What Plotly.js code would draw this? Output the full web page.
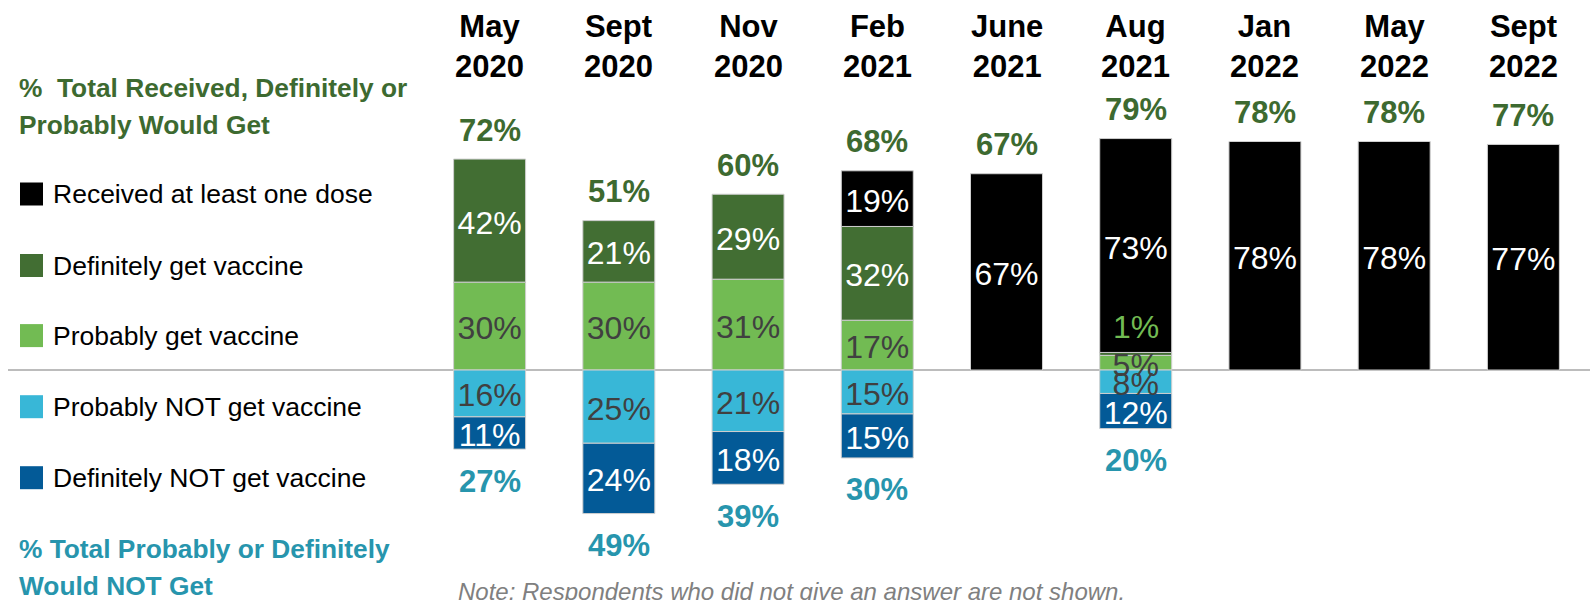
<!DOCTYPE html>
<html>
<head>
<meta charset="utf-8">
<script src="https://cdn.plot.ly/plotly-3.0.1.min.js"></script>
<style>
  body { margin: 0; background: #fff; }
  #chart { width: 1590px; height: 600px; }
</style>
</head>
<body>
<div id="chart"></div>
<script>
// survey waves
const months = ['May 2020', 'Sept 2020', 'Nov 2020', 'Feb 2021', 'June 2021', 'Aug 2021', 'Jan 2022', 'May 2022', 'Sept 2022'];
const monthLabels = ['May<br>2020', 'Sept<br>2020', 'Nov<br>2020', 'Feb<br>2021', 'June<br>2021', 'Aug<br>2021', 'Jan<br>2022', 'May<br>2022', 'Sept<br>2022'];

// shares in %, null = not asked
const received      = [null, null, null, 19, 67, 73, 78, 78, 77];
const definitelyGet = [42, 21, 29, 32, null, 1, null, null, null];
const probablyGet   = [30, 30, 31, 17, null, 5, null, null, null];
const probablyNot   = [16, 25, 21, 15, null, 8, null, null, null];
const definitelyNot = [11, 24, 18, 15, null, 12, null, null, null];

const totalGet = [72, 51, 60, 68, 67, 79, 78, 78, 77];
const totalNot = [27, 49, 39, 30, null, 20, null, null, null];

const legendLabels = ['Received at least one dose', 'Definitely get vaccine', 'Probably get vaccine', 'Probably NOT get vaccine', 'Definitely NOT get vaccine'];

const C = {
  received: '#000000',
  defGet: '#426E33',
  probGet: '#72BB53',
  probNot: '#38B7D7',
  defNot: '#035A97',
  greenText: '#3D6A30',
  tealText: '#2795AD'
};
const legendColors = [C.received, C.defGet, C.probGet, C.probNot, C.defNot];

const FONT = 'Liberation Sans, Arial, sans-serif';
const W = 1590, H = 600;
const M = { l: 425, r: 2, t: 0, b: 0 };
const plotW = W - M.l - M.r;
const Y_RANGE = [-78.5, 126.3];
const pxPerUnit = (H - M.t - M.b) / (Y_RANGE[1] - Y_RANGE[0]);

// pixel -> paper helpers for the side legend
const px2x = px => (px - M.l) / plotW;
const px2y = py => 1 - py / H;

const MIN_INSIDE = 3; // smaller segments get their label above
const LABEL_DROP = 5; // px, optical nudge of segment labels

function barTrace(vals, color, sign) {
  return {
    type: 'bar',
    x: months,
    y: vals.map(v => v == null ? null : sign * v),
    marker: { color: color, line: { color: '#cfcfcf', width: 1 } },
    hoverinfo: 'skip'
  };
}

// stacks from zero outwards, same order as the bar traces
const upStack = [
  { vals: probablyGet, txt: '#404040' },
  { vals: definitelyGet, txt: '#ffffff' },
  { vals: received, txt: '#ffffff' }
];
const downStack = [
  { vals: probablyNot, txt: '#404040' },
  { vals: definitelyNot, txt: '#ffffff' }
];

// segment labels as a text layer above all bars
const lblX = [], lblY = [], lblT = [], lblC = [];
months.forEach((m, i) => {
  [[upStack, 1], [downStack, -1]].forEach(([stack, sign]) => {
    let base = 0;
    stack.forEach(s => {
      const v = s.vals[i];
      if (v == null) return;
      if (v >= MIN_INSIDE) {
        lblX.push(m);
        lblY.push(sign * (base + v / 2) - LABEL_DROP / pxPerUnit);
        lblT.push(v + '%');
        lblC.push(s.txt);
      }
      base += v;
    });
  });
});

const data = [
  barTrace(probablyGet, C.probGet, 1),
  barTrace(definitelyGet, C.defGet, 1),
  barTrace(received, C.received, 1),
  barTrace(probablyNot, C.probNot, -1),
  barTrace(definitelyNot, C.defNot, -1),
  {
    type: 'scatter', mode: 'text',
    x: lblX, y: lblY, text: lblT,
    textposition: 'middle center',
    textfont: { family: FONT, size: 32, color: lblC },
    cliponaxis: false, hoverinfo: 'skip'
  }
];

const annotations = [];

// wave headers
months.forEach((m, i) => {
  annotations.push({
    x: m, xref: 'x', y: px2y(46), yref: 'paper',
    text: '<b>' + monthLabels[i] + '</b>', showarrow: false,
    xanchor: 'center', yanchor: 'middle',
    font: { family: FONT, size: 31, color: '#000' }
  });
});

// totals above / below
months.forEach((m, i) => {
  annotations.push({
    x: m, y: totalGet[i], text: '<b>' + totalGet[i] + '%</b>', showarrow: false,
    yanchor: 'middle', yshift: 29,
    font: { family: FONT, size: 31, color: C.greenText }
  });
  if (totalNot[i] != null) {
    annotations.push({
      x: m, y: -totalNot[i], text: '<b>' + totalNot[i] + '%</b>', showarrow: false,
      yanchor: 'middle', yshift: -32,
      font: { family: FONT, size: 31, color: C.tealText }
    });
  }
});

// tiny segments: label drawn just above the segment
months.forEach((m, i) => {
  const v = definitelyGet[i];
  if (v != null && v < MIN_INSIDE) {
    annotations.push({
      x: m, y: (probablyGet[i] || 0) + v, text: v + '%', showarrow: false,
      yanchor: 'middle', yshift: 25,
      font: { family: FONT, size: 32, color: C.probGet }
    });
  }
});

// side legend with group headings
const legendY = [194, 265.5, 335.6, 406.7, 477.7];
const shapes = [];
legendLabels.forEach((lab, i) => {
  shapes.push({
    type: 'rect', xref: 'paper', yref: 'paper',
    x0: px2x(20), x1: px2x(43), y0: px2y(legendY[i] - 11.5), y1: px2y(legendY[i] + 11.5),
    fillcolor: legendColors[i], line: { width: 0 }
  });
  annotations.push({
    xref: 'paper', yref: 'paper', x: px2x(51), y: px2y(legendY[i]),
    text: lab, showarrow: false, xanchor: 'left', yanchor: 'middle',
    font: { family: FONT, size: 26.5, color: '#000' }
  });
});

const headings = [
  { t: '%  Total Received, Definitely or', y: 88, c: C.greenText },
  { t: 'Probably Would Get', y: 125, c: C.greenText },
  { t: '% Total Probably or Definitely', y: 549, c: C.tealText },
  { t: 'Would NOT Get', y: 586, c: C.tealText }
];
headings.forEach(h => {
  annotations.push({
    xref: 'paper', yref: 'paper', x: px2x(17), y: px2y(h.y),
    text: '<b>' + h.t.replace(/  /g, '&nbsp; ') + '</b>', showarrow: false,
    xanchor: 'left', yanchor: 'middle',
    font: { family: FONT, size: 26.3, color: h.c }
  });
});

annotations.push({
  xref: 'paper', yref: 'paper', x: px2x(456), y: px2y(591),
  text: '<i>Note: Respondents who did not give an answer are not shown.</i>',
  showarrow: false, xanchor: 'left', yanchor: 'middle',
  font: { family: FONT, size: 24, color: '#808080' }
});

// zero line across the whole figure
shapes.push({
  type: 'line', xref: 'paper', yref: 'y',
  x0: px2x(8), x1: 1.01, y0: 0, y1: 0,
  line: { color: '#a6a6a6', width: 1.5 }, layer: 'below'
});

const layout = {
  width: W, height: H,
  margin: M,
  barmode: 'relative',
  bargap: 0.443,
  showlegend: false,
  hovermode: false,
  paper_bgcolor: '#fff',
  plot_bgcolor: '#fff',
  xaxis: { type: 'category', range: [-0.5, 8.5], showticklabels: false, showgrid: false, zeroline: false, fixedrange: true },
  yaxis: { range: Y_RANGE, visible: false, showgrid: false, zeroline: false, fixedrange: true },
  annotations: annotations,
  shapes: shapes
};

Plotly.newPlot('chart', data, layout, { displayModeBar: false, staticPlot: true });
</script>
</body>
</html>
